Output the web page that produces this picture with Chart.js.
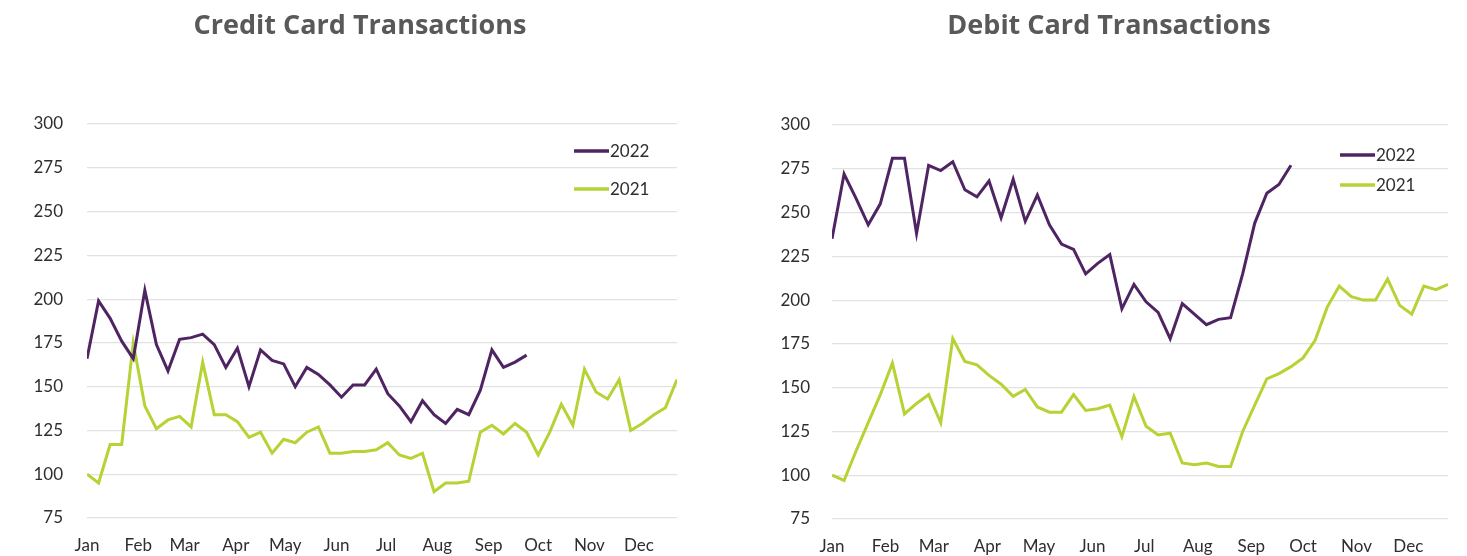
<!DOCTYPE html>
<html>
<head>
<meta charset="utf-8">
<script src="https://cdn.jsdelivr.net/npm/chart.js@4.4.1/dist/chart.umd.min.js"></script>
<style>
  body { margin: 0; background: #fff; }
  .wrap { position: relative; width: 1467px; height: 556px; }
  canvas { position: absolute; top: 0; }
  #credit-chart { left: 0; }
  #debit-chart { left: 733px; }
  .title {
    position: absolute; top: 6px; width: 500px; margin-left: -250px;
    text-align: center; font-family: "Open Sans"; font-weight: bold;
    font-size: 27px; line-height: 36px; color: #595959;
  }
</style>
</head>
<body>
<div class="wrap">
  <canvas id="credit-chart" width="733" height="556"></canvas>
  <canvas id="debit-chart" width="734" height="556"></canvas>
  <div class="title" style="left: 360px;">Credit Card Transactions</div>
  <div class="title" style="left: 1109px;">Debit Card Transactions</div>
</div>
<script>
// month names and the day of year each month starts on (ticks sit at day/7, in weeks)
const months = ["Jan", "Feb", "Mar", "Apr", "May", "Jun", "Jul", "Aug", "Sep", "Oct", "Nov", "Dec"]
const month_start_day = [0, 31, 59, 90, 120, 151, 181, 212, 243, 273, 304, 334]

const y_ticks = [75, 100, 125, 150, 175, 200, 225, 250, 275, 300]

// weekly index values
const credit_2022 = [166, 199, 189, 176, 166, 205, 174, 159, 177, 178,
  180, 174, 161, 172, 150, 171, 165, 163, 150, 161,
  157, 151, 144, 151, 151, 160, 146, 139, 130, 142,
  134, 129, 137, 134, 148, 171, 161, 164, 168]

const credit_2021 = [100, 95, 117, 117, 175, 139, 126, 131, 133, 127,
  164, 134, 134, 130, 121, 124, 112, 120, 118, 124,
  127, 112, 112, 113, 113, 114, 118, 111, 109, 112,
  90, 95, 95, 96, 124, 128, 123, 129, 124, 111,
  124, 140, 128, 160, 147, 143, 154, 125, 129, 134,
  138, 154]

const debit_2022 = [235, 272, 258, 243, 255, 281, 281, 238, 277, 274,
  279, 263, 259, 268, 247, 269, 245, 260, 243, 232,
  229, 215, 221, 226, 195, 209, 199, 193, 178, 198,
  192, 186, 189, 190, 215, 244, 261, 266, 277]

const debit_2021 = [100, 97, 114, 130, 146, 164, 135, 141, 146, 130,
  178, 165, 163, 157, 152, 145, 149, 139, 136, 136,
  146, 137, 138, 140, 122, 145, 128, 123, 124, 107,
  106, 107, 105, 105, 125, 140, 155, 158, 162, 167,
  177, 196, 208, 202, 200, 200, 212, 197, 192, 208,
  206, 209]

const purple = "#4f2462"
const green = "#b5d334"
const text_color = "#2e2e2e"

// little legend drawn inside the plot, like the excel one
const insideLegend = {
  id: "insideLegend",
  afterDraw(chart, args, opts) {
    const ctx = chart.ctx
    const area = chart.chartArea
    ctx.save()
    chart.data.datasets.forEach((ds, i) => {
      const y = area.top + opts.top + i * opts.gap
      const x = area.right - opts.right
      ctx.strokeStyle = ds.borderColor
      ctx.lineWidth = 3.5
      ctx.beginPath()
      ctx.moveTo(x, y)
      ctx.lineTo(x + 35, y)
      ctx.stroke()
      ctx.fillStyle = text_color
      ctx.font = "17px Lato"
      ctx.textBaseline = "middle"
      ctx.fillText(ds.label, x + 36, y + 1)
    })
    ctx.restore()
  }
}

function toPoints(values) {
  return values.map((v, i) => ({ x: i, y: v }))
}

function makeChart(id, s2022, s2021, o) {
  const ctx = document.getElementById(id).getContext("2d")
  return new Chart(ctx, {
    type: "line",
    data: {
      datasets: [
        { label: "2022", data: toPoints(s2022), borderColor: purple, borderWidth: 3, pointRadius: 0, tension: 0 },
        { label: "2021", data: toPoints(s2021), borderColor: green, borderWidth: 3, pointRadius: 0, tension: 0 }
      ]
    },
    options: {
      animation: false,
      responsive: false,
      layout: {
        padding: { left: o.padLeft, right: o.padRight, top: o.padTop, bottom: 0 }
      },
      plugins: {
        legend: { display: false },
        tooltip: { enabled: false },
        insideLegend: { top: o.legTop, gap: o.legGap, right: o.legRight }
      },
      scales: {
        x: {
          type: "linear",
          min: 0,
          max: 51,
          grid: { display: false, drawTicks: false },
          border: { display: false },
          afterBuildTicks: (scale) => {
            scale.ticks = month_start_day.map(d => ({ value: d / 7 }))
          },
          afterFit: (scale) => { scale.height = o.xHeight },
          ticks: {
            autoSkip: false,
            maxRotation: 0,
            padding: 19,
            color: text_color,
            font: { family: "Lato", size: 17, lineHeight: 1 },
            callback: (val, idx) => months[idx]
          }
        },
        y: {
          min: 75,
          max: 300,
          afterBuildTicks: (scale) => {
            scale.ticks = y_ticks.map(v => ({ value: v }))
          },
          afterFit: (scale) => { scale.width = o.yWidth },
          grid: { color: "#e2e2e2", lineWidth: 1.2, drawTicks: false },
          border: { display: false },
          ticks: {
            padding: o.yPad,
            color: text_color,
            font: { family: "Lato", size: 17 }
          }
        }
      }
    },
    plugins: [insideLegend]
  })
}

makeChart("credit-chart", credit_2022, credit_2021,
  { padLeft: 27, padRight: 56, padTop: 124, xHeight: 38, yWidth: 60, yPad: 24, legTop: 27, legGap: 38, legRight: 103 })

makeChart("debit-chart", debit_2022, debit_2021,
  { padLeft: 40, padRight: 19, padTop: 125, xHeight: 37, yWidth: 59, yPad: 22, legTop: 30, legGap: 30, legRight: 108 })
</script>
</body>
</html>
